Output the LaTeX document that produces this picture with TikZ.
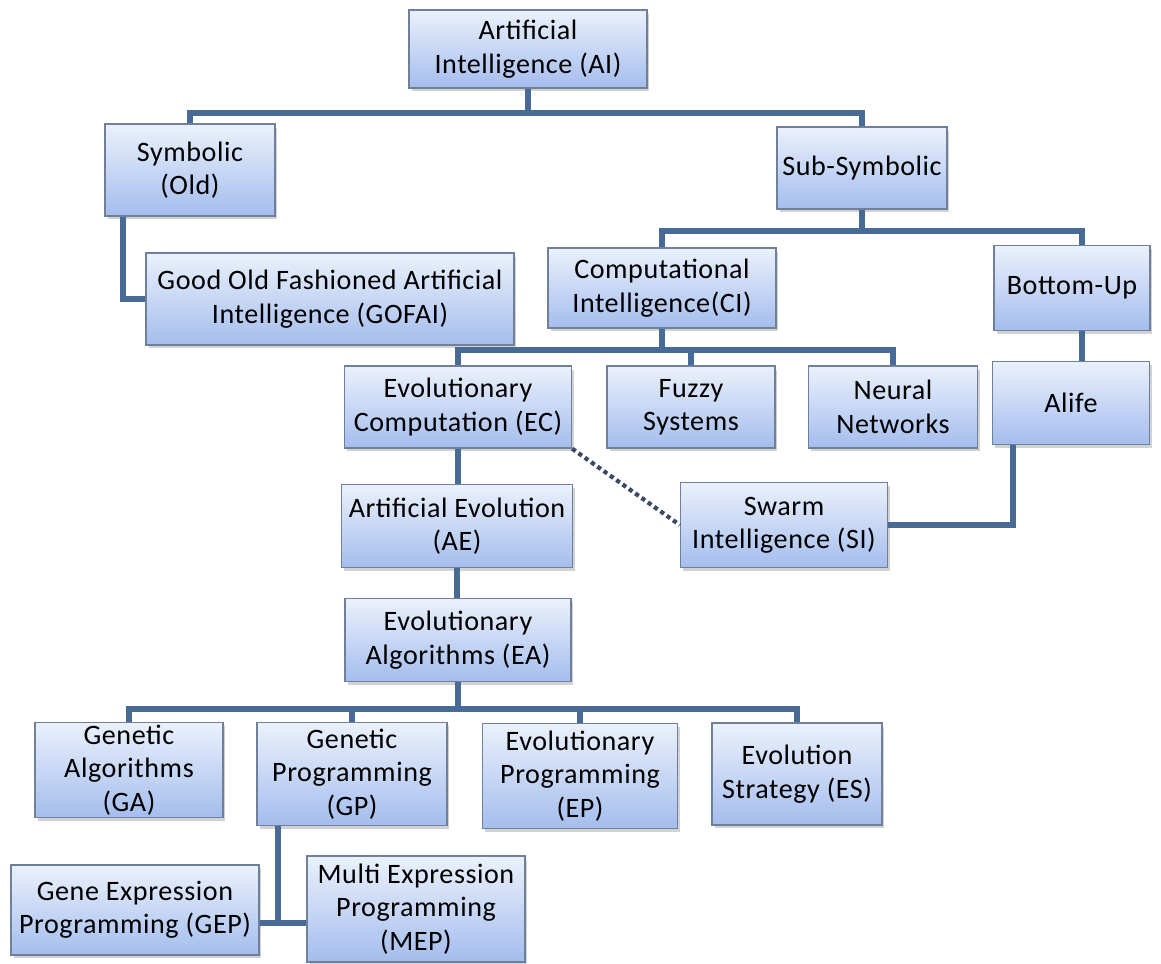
\documentclass[tikz,border=0pt]{standalone}
\usepackage{fontspec}
\setmainfont{Carlito}[LetterSpace=2]
\usetikzlibrary{shadows}

\definecolor{boxtop}{RGB}{235,241,252}
\definecolor{boxbottom}{RGB}{164,189,237}
\definecolor{boxline}{RGB}{112,128,155}
\definecolor{linkblue}{RGB}{72,106,150}
\definecolor{dotgray}{RGB}{60,72,100}

\begin{document}
\begin{tikzpicture}[
        x=0.02cm, y=-0.02cm,
        every node/.style={font=\fontsize{16}{19}\selectfont},
        box/.style={rectangle, draw=boxline, line width=0.8pt, top color=boxtop, bottom color=boxbottom, align=center, inner sep=1pt, drop shadow={opacity=0.35, shadow xshift=0.05cm, shadow yshift=-0.07cm}},
        link/.style={draw=linkblue, line width=3.3pt},
        dotlink/.style={draw=dotgray, line width=2.4pt, dotted}
    ]
        \useasboundingbox[fill=white] (0,0) rectangle (1161,964);
        \node[box, minimum width=4.76cm, minimum height=1.56cm] (ai) at (528,49) {Artificial\\Intelligence (AI)};
        \node[box, minimum width=3.4cm, minimum height=1.84cm] (sym) at (190,170) {Symbolic\\(Old)};
        \node[box, minimum width=3.4cm, minimum height=1.64cm] (subsym) at (862,168) {Sub-Symbolic};
        \node[box, minimum width=7.36cm, minimum height=1.84cm] (gofai) at (330,299) {Good Old Fashioned Artificial\\Intelligence (GOFAI)};
        \node[box, minimum width=4.56cm, minimum height=1.6cm] (ci) at (662,288) {Computational\\Intelligence(CI)};
        \node[box, minimum width=3.12cm, minimum height=1.7cm] (bu) at (1072,288) {Bottom-Up};
        \node[box, minimum width=4.54cm, minimum height=1.64cm] (ec) at (458,407) {Evolutionary\\Computation (EC)};
        \node[box, minimum width=3.36cm, minimum height=1.64cm] (fuzzy) at (691,407) {Fuzzy\\Systems};
        \node[box, minimum width=3.38cm, minimum height=1.64cm] (neural) at (893,407) {Neural\\Networks};
        \node[box, minimum width=3.14cm, minimum height=1.66cm] (alife) at (1071,403) {Alife};
        \node[box, minimum width=4.14cm, minimum height=1.7cm] (si) at (784,525) {Swarm\\Intelligence (SI)};
        \node[box, minimum width=4.62cm, minimum height=1.66cm] (ae) at (457,526) {Artificial Evolution\\(AE)};
        \node[box, minimum width=4.52cm, minimum height=1.66cm] (ea) at (458,640) {Evolutionary\\Algorithms (EA)};
        \node[box, minimum width=3.76cm, minimum height=1.9cm] (ga) at (129,770) {Genetic\\Algorithms\\(GA)};
        \node[box, minimum width=3.8cm, minimum height=2.06cm] (gp) at (352,774) {Genetic\\Programming\\(GP)};
        \node[box, minimum width=3.9cm, minimum height=2.1cm] (ep) at (580,776) {Evolutionary\\Programming\\(EP)};
        \node[box, minimum width=3.4cm, minimum height=2.04cm] (es) at (797,774) {Evolution\\Strategy (ES)};
        \node[box, minimum width=4.96cm, minimum height=1.8cm] (gep) at (135,910) {Gene Expression\\Programming (GEP)};
        \node[box, minimum width=4.36cm, minimum height=2.12cm] (mep) at (416,909) {Multi Expression\\Programming\\(MEP)};
        \draw[link] (ai.south) -- +(0,24) -| (sym.north);
        \draw[link] (ai.south) -- +(0,24) -| (subsym.north);
        \draw[link] ([xshift=-1.34cm]sym.south) |- (gofai.west);
        \draw[link] (subsym.south) -- +(0,21) -| (ci.north);
        \draw[link] (subsym.south) -- +(0,21) -| ([xshift=0.2cm]bu.north);
        \draw[link] ([xshift=0.2cm]bu.south) -- ([xshift=0.2cm]bu.south |- alife.north);
        \draw[link] (ci.south) -- +(0,21) -| (ec.north);
        \draw[link] (ci.south) -- +(0,21) -| (fuzzy.north);
        \draw[link] (ci.south) -- +(0,21) -| (neural.north);
        \draw[link] (ec.south) -- (ec.south |- ae.north);
        \draw[link] (ae.south) -- (ae.south |- ea.north);
        \draw[dotlink] (ec.south east) -- (si.west);
        \draw[link] ([xshift=-1.16cm]alife.south) |- (si.east);
        \draw[link] (ea.south) -- +(0,27) -| (ga.north);
        \draw[link] (ea.south) -- +(0,27) -| (gp.north);
        \draw[link] (ea.south) -- +(0,27) -| (ep.north);
        \draw[link] (ea.south) -- +(0,27) -| (es.north);
        \draw[link] ([xshift=-1.48cm]gp.south) |- ([yshift=-0.26cm]gep.east);
        \draw[link] ([yshift=-0.26cm]gep.east) -- ([yshift=-0.26cm]gep.east -| mep.west);
    \end{tikzpicture}
\end{document}
